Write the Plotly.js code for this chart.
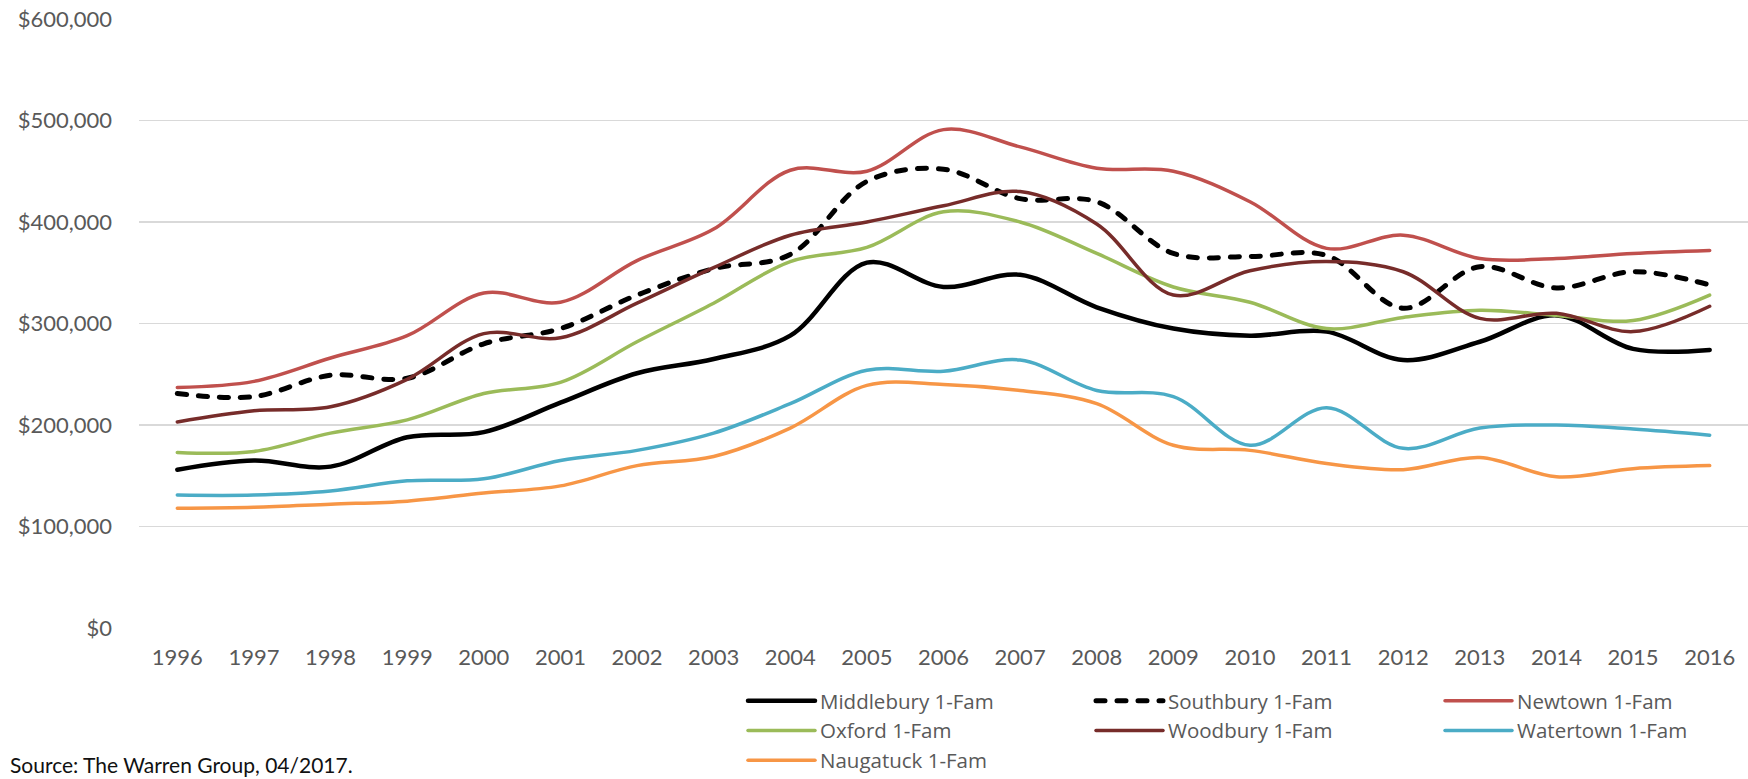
<!DOCTYPE html>
<html>
<head>
<meta charset="utf-8">
<script src="https://cdn.plot.ly/plotly-3.0.1.min.js"></script>
<style>
  html, body { margin: 0; padding: 0; background: #fff; }
  #chart { width: 1748px; height: 779px; }
  .js-line { stroke-linecap: round; stroke-linejoin: round; }
</style>
</head>
<body>
<div id="chart"></div>
<script>
// ---- data (median 1-family sale price, $) ----
var years = ['1996','1997','1998','1999','2000','2001','2002','2003','2004','2005','2006',
             '2007','2008','2009','2010','2011','2012','2013','2014','2015','2016'];

var middlebury = [156000,165000,159000,188000,193000,222000,251000,265000,288000,360000,336000,
                  348000,316000,295000,288000,292000,264000,282000,308000,275000,274000];
var southbury  = [231000,228000,249000,246000,280000,295000,328000,354000,368000,440000,452000,
                  423000,420000,369000,366000,367000,315000,356000,335000,351000,338000];
var newtown    = [237000,243000,266000,288000,330000,321000,362000,393000,451000,450000,491000,
                  474000,453000,450000,420000,374000,387000,364000,364000,369000,372000];
var oxford     = [173000,174000,192000,205000,231000,242000,282000,320000,361000,375000,410000,
                  400000,369000,336000,321000,295000,306000,313000,308000,303000,328000];
var woodbury   = [203000,214000,218000,245000,290000,286000,320000,355000,387000,400000,416000,
                  430000,398000,328000,352000,361000,351000,305000,310000,292000,317000];
var watertown  = [131000,131000,135000,145000,147000,165000,175000,192000,221000,254000,253000,
                  264000,234000,228000,180000,217000,177000,197000,200000,196000,190000];
var naugatuck  = [118000,119000,122000,125000,133000,140000,160000,169000,197000,239000,240000,
                  234000,221000,180000,175000,162000,156000,168000,149000,157000,160000];

var seriesNames = ['Middlebury 1-Fam','Southbury 1-Fam','Newtown 1-Fam','Oxford 1-Fam',
                   'Woodbury 1-Fam','Watertown 1-Fam','Naugatuck 1-Fam'];
var yTickVals  = [0,100000,200000,300000,400000,500000,600000];
var yTickText  = ['$0','$100,000','$200,000','$300,000','$400,000','$500,000','$600,000'];
var sourceText = 'Source: The Warren Group, 04/2017.';

// ---- styling ----
var FONT = 'Lato, "Open Sans", "Liberation Sans", sans-serif';
var LFONT = '"Open Sans", Lato, "Liberation Sans", sans-serif';
var GREY = '#595959';

function mk(name, y, color, width, dash, legendId) {
  return {
    type: 'scatter', mode: 'lines', name: name, x: years, y: y,
    line: { color: color, width: width, shape: 'spline', smoothing: 1, dash: dash || 'solid' },
    legend: legendId, hoverinfo: 'skip'
  };
}

var traces = [
  mk(seriesNames[0], middlebury, '#000000', 4.5, 'solid', 'legend'),
  mk(seriesNames[1], southbury,  '#000000', 5,   '9px,12px', 'legend2'),
  mk(seriesNames[2], newtown,    '#C0504D', 3.5, 'solid', 'legend3'),
  mk(seriesNames[3], oxford,     '#9BBB59', 3.5, 'solid', 'legend'),
  mk(seriesNames[4], woodbury,   '#772C2A', 3.5, 'solid', 'legend2'),
  mk(seriesNames[5], watertown,  '#4BACC6', 3.5, 'solid', 'legend3'),
  mk(seriesNames[6], naugatuck,  '#F79646', 3.5, 'solid', 'legend')
];

var W = 1748, H = 779;
var mL = 139, mR = 0, mT = 19, mB = 151;
var pw = W - mL - mR, ph = H - mT - mB;
function px2x(p) { return (p - mL) / pw; }
function py2y(p) { return (H - mB - p) / ph; }

function legendAt(xpx) {
  return {
    orientation: 'v', x: px2x(xpx), xanchor: 'left', y: py2y(681), yanchor: 'top',
    bgcolor: 'rgba(0,0,0,0)', borderwidth: 0, itemwidth: 67, traceorder: 'normal',
    font: { family: LFONT, size: 20.5, color: GREY }, itemclick: false, itemdoubleclick: false
  };
}

var layout = {
  width: W, height: H,
  margin: { l: mL, r: mR, t: mT, b: mB, autoexpand: false },
  paper_bgcolor: '#ffffff', plot_bgcolor: '#ffffff',
  font: { family: FONT, color: GREY },
  showlegend: true,
  legend: legendAt(743),
  legend2: legendAt(1091),
  legend3: legendAt(1440),
  xaxis: {
    type: 'category', range: [-0.5, 20.5], showgrid: false, zeroline: false,
    showline: false, ticks: '', tickfont: { family: FONT, size: 22, color: GREY },
    ticklabelstandoff: 14, fixedrange: true
  },
  yaxis: {
    range: [0, 600000], tickmode: 'array', tickvals: yTickVals, ticktext: yTickText,
    showgrid: true, gridcolor: '#D9D9D9', gridwidth: 1.4, zeroline: false,
    showline: false, ticks: '', tickfont: { family: FONT, size: 22, color: GREY },
    ticklabelstandoff: 26, fixedrange: true
  },
  annotations: [{
    xref: 'paper', yref: 'paper', x: px2x(8), y: py2y(764), xanchor: 'left', yanchor: 'middle',
    text: sourceText, showarrow: false, font: { family: FONT, size: 21, color: '#111111' }
  }]
};

Plotly.newPlot('chart', traces, layout, { displayModeBar: false, staticPlot: true });
</script>
</body>
</html>
